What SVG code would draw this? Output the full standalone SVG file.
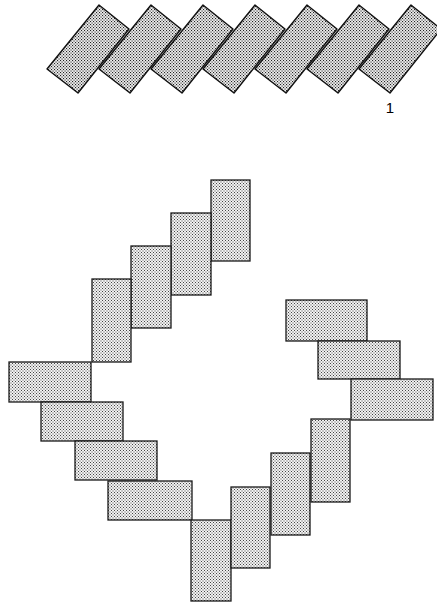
<svg xmlns="http://www.w3.org/2000/svg" width="437" height="607" viewBox="0 0 437 607">
<style>
.t{fill:url(#dk);stroke:#111;stroke-width:1.4;stroke-linejoin:round}
.b{fill:url(#lt);stroke:#1a1a1a;stroke-width:1.3}
.lbl{font-family:"Liberation Sans",Arial,sans-serif;font-size:15px;fill:#000;text-anchor:middle}
</style>
<defs>
<pattern id="dk" width="3" height="3" patternUnits="userSpaceOnUse">
<rect width="3" height="3" fill="#eeeeee"/>
<rect x="0" y="0" width="1.1" height="1.1" fill="#222"/>
<rect x="1.5" y="1.5" width="1.1" height="1.1" fill="#222"/>
</pattern>
<pattern id="lt" width="3" height="3" patternUnits="userSpaceOnUse">
<rect width="3" height="3" fill="#f2f2f2"/>
<rect x="0" y="0" width="1" height="1" fill="#444"/>
<rect x="1.5" y="1.5" width="1" height="1" fill="#444"/>
</pattern>
<polygon id="tp" points="99,5 129,29 78,93 47,69"/>
</defs>
<g id="strip">
<g id="s1"><use href="#tp" class="t"/></g>
<g id="s2"><use href="#tp" class="t" x="52"/></g>
<g id="s3"><use href="#tp" class="t" x="104"/></g>
<g id="s4"><use href="#tp" class="t" x="156"/></g>
<g id="s5"><use href="#tp" class="t" x="208"/></g>
<g id="s6"><use href="#tp" class="t" x="260"/></g>
<g id="s7"><use href="#tp" class="t" x="312"/></g>
<text class="lbl" x="390" y="113">1</text>
</g>
<g id="ring">
<g id="v1"><rect class="b" x="211" y="180" width="39" height="81"/></g>
<g id="v2"><rect class="b" x="171" y="213" width="40" height="82"/></g>
<g id="v3"><rect class="b" x="131" y="246" width="40" height="82"/></g>
<g id="v4"><rect class="b" x="92" y="279" width="39" height="83"/></g>
<g id="h1"><rect class="b" x="9" y="362" width="82" height="40"/></g>
<g id="h2"><rect class="b" x="41" y="402" width="82" height="39"/></g>
<g id="h3"><rect class="b" x="75" y="441" width="82" height="39"/></g>
<g id="h4"><rect class="b" x="108" y="481" width="84" height="39"/></g>
<g id="b1"><rect class="b" x="191" y="520" width="40" height="81"/></g>
<g id="b2"><rect class="b" x="231" y="487" width="39" height="81"/></g>
<g id="b3"><rect class="b" x="271" y="453" width="39" height="82"/></g>
<g id="b4"><rect class="b" x="311" y="419" width="39" height="83"/></g>
<g id="r1"><rect class="b" x="286" y="300" width="81" height="41"/></g>
<g id="r2"><rect class="b" x="318" y="341" width="82" height="38"/></g>
<g id="r3"><rect class="b" x="351" y="379" width="82" height="41"/></g>
</g>
</svg>
